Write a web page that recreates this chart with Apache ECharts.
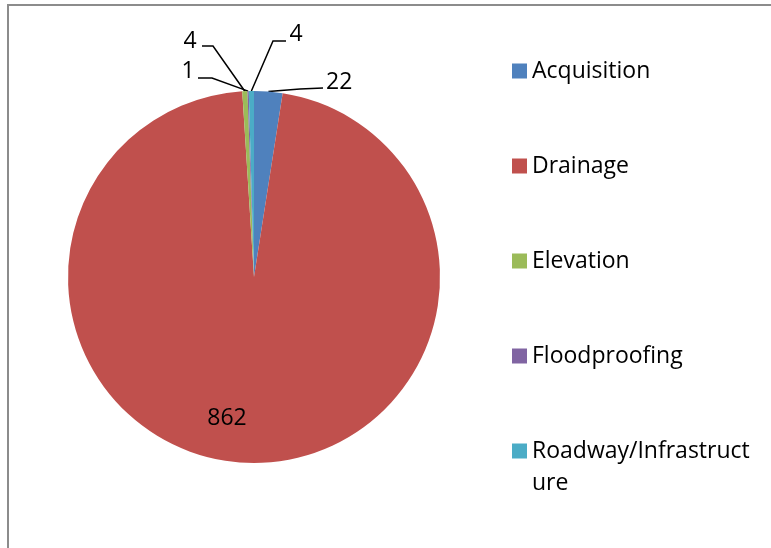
<!DOCTYPE html>
<html><head><meta charset="utf-8">
<script src="https://cdn.jsdelivr.net/npm/echarts@6/dist/echarts.min.js"></script>
<style>html,body{margin:0;padding:0;background:#fff}#c{width:771px;height:548px}</style>
</head><body><div id="c"></div>
<script>
const categories = ['Acquisition', 'Drainage', 'Elevation', 'Floodproofing', 'Roadway/Infrastructure'];
const values = [22, 862, 4, 1, 4];
const colors = ['#4F81BD', '#C0504D', '#9BBB59', '#8064A2', '#4BACC6'];

const FONT = '"Open Sans", sans-serif';
const FS = 23;
// label text placement (style): [x, y, align, elbowX, elbowY, endX, endY]
const LABEL_STYLE = {
  0: [326, 82, 'left', 300, 89, 323, 88],
  1: [227, 418, 'center'],
  2: [190, 41, 'center', 213, 46, 202, 46],
  3: [188, 71, 'center', 212, 78, 198, 78],
  4: [296, 34, 'center', 273, 41, 286, 41]
};

const chart = echarts.init(document.getElementById('c'));
chart.setOption({
  animation: false,
  graphic: [{
    type: 'rect', silent: true,
    shape: { x: 8, y: 5, width: 900, height: 700 },
    style: { fill: 'none', stroke: '#8c8c8c', lineWidth: 2 }
  }],
  legend: [{
    orient: 'vertical', left: 512, top: 55, padding: 0,
    itemWidth: 15, itemHeight: 15, itemGap: 63,
    selectedMode: false, icon: 'rect',
    data: categories.slice(0, 4),
    textStyle: { fontFamily: FONT, fontSize: FS, color: '#000', lineHeight: 32 }
  }, {
    orient: 'vertical', left: 512, top: 403, padding: 0,
    itemWidth: 15, itemHeight: 15,
    selectedMode: false, icon: 'rect',
    data: categories.slice(4),
    formatter: function (n) { return n === 'Roadway/Infrastructure' ? ' \nRoadway/Infrastruct\nure' : n; },
    textStyle: { fontFamily: FONT, fontSize: FS, color: '#000', lineHeight: 32 }
  }],
  series: [{
    type: 'pie',
    center: [254, 277],
    radius: 186,
    startAngle: 90,
    clockwise: true,
    avoidLabelOverlap: false,
    color: colors,
    itemStyle: { borderWidth: 0 },
    label: { show: true, formatter: '{c}', fontFamily: FONT, fontSize: FS, color: '#000' },
    labelLine: { show: true, length: 10, length2: 10, lineStyle: { color: '#000', width: 1.5 } },
    emphasis: { disabled: true },
    data: categories.map(function (c, i) {
      const d = { name: c, value: values[i] };
      if (i === 1) { d.label = { position: 'inside' }; d.labelLine = { show: false }; }
      return d;
    }),
    labelLayout: function (p) {
      const s = LABEL_STYLE[p.dataIndex];
      if (!s) return {};
      const out = { x: s[0], y: s[1], align: s[2], verticalAlign: 'middle' };
      if (s.length > 3 && p.labelLinePoints) {
        const a = p.labelLinePoints[0];
        out.labelLinePoints = [a, [s[3], s[4]], [s[5], s[6]]];
      }
      return out;
    }
  }]
});
</script></body></html>
